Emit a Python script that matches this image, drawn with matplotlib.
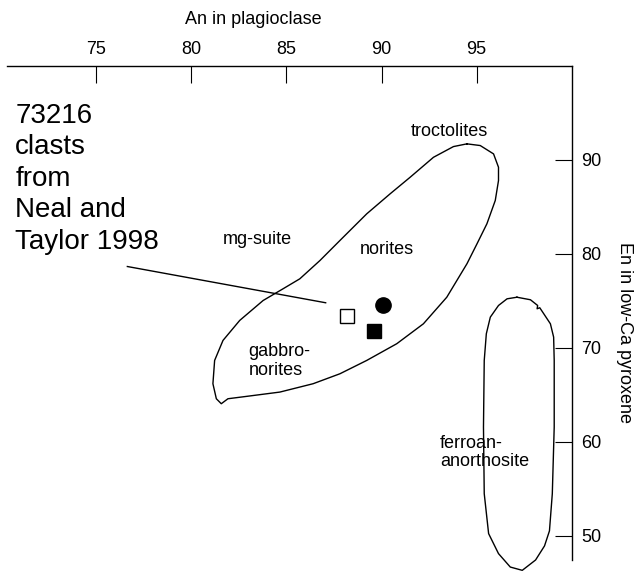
import matplotlib
matplotlib.use("Agg")
import matplotlib.pyplot as plt

plt.rcParams['font.family'] = ['Liberation Sans', 'DejaVu Sans']

# ---- data (An in plagioclase, En in low-Ca pyroxene) ----
x_ticks = [75, 80, 85, 90, 95]
y_ticks = [50, 60, 70, 80, 90]

# outline of the mg-suite field (troctolites / norites / gabbro-norites)
mg_an = [94.49, 95.19, 95.89, 96.15, 96.15, 95.98, 95.54, 95.02, 94.49, 93.43,
         92.20, 90.80, 89.22, 87.81, 86.40, 84.65, 82.89, 81.92, 81.57, 81.31,
         81.13, 81.22, 81.66, 82.54, 83.77, 84.82, 85.70, 86.76, 87.81, 89.22,
         90.45, 91.50, 92.73, 93.78, 94.49]
mg_en = [91.71, 91.53, 90.64, 89.22, 87.80, 85.68, 83.20, 81.07, 78.94, 75.38,
         72.55, 70.43, 68.65, 67.23, 66.17, 65.28, 64.82, 64.57, 64.04, 64.57,
         66.17, 68.65, 70.78, 72.91, 75.03, 76.28, 77.34, 79.29, 81.42, 84.26,
         86.39, 88.15, 90.28, 91.42, 91.71]

# outline of the ferroan-anorthosite field
fan_an = [97.12, 97.83, 98.21, 98.18, 98.32, 98.53, 98.88, 99.05, 99.08, 99.08,
          98.98, 98.83, 98.57, 98.10, 97.40, 96.77, 96.15, 95.63, 95.40, 95.36,
          95.40, 95.51, 95.72, 96.15, 96.60, 97.12]
fan_en = [75.38, 75.11, 74.50, 74.15, 74.26, 73.62, 72.55, 71.13, 68.65, 61.55,
          54.46, 50.50, 48.90, 47.40, 46.30, 46.65, 48.08, 50.21, 54.46, 61.55,
          68.65, 71.49, 73.26, 74.50, 75.21, 75.38]

# 73216 clasts (Neal and Taylor 1998)
clast_an = [88.2, 90.1, 89.6]
clast_en = [73.4, 74.5, 71.8]

# leader line from the note to the clasts
leader_an = [76.63, 87.06]
leader_en = [78.65, 74.79]

# ---- figure ----
fig = plt.figure(figsize=(6.36, 5.74), dpi=100)
W, H = 636, 574
ax = fig.add_axes([7 / W, 1 - 560 / H, 564.7 / W, 494 / H])
ax.set_xlim(70.3, 100.0)
ax.set_ylim(47.4, 100.0)

for s in ('left', 'bottom'):
    ax.spines[s].set_visible(False)
for s in ('top', 'right'):
    ax.spines[s].set_linewidth(1.0)

ax.xaxis.tick_top()
ax.yaxis.tick_right()
ax.set_xticks(x_ticks)
ax.set_yticks(y_ticks)
ax.tick_params(axis='x', direction='in', length=12.5, width=0.8, pad=6, labelsize=13)
ax.tick_params(axis='y', direction='in', length=12.5, width=0.8, pad=7, labelsize=13)

ax.xaxis.set_label_position('top')
ax.set_xlabel('An in plagioclase', fontsize=13, va='center')
ax.xaxis.set_label_coords((253.4 - 7) / 564.7, 1 + (66 - 19) / 494)
ax.yaxis.set_label_position('right')
ax.set_ylabel('En in low-Ca pyroxene', fontsize=13, rotation=270, va='center', ha='center')
ax.yaxis.set_label_coords((625 - 7) / 564.7, (560 - 332) / 494)

ax.plot(mg_an, mg_en, color='black', lw=1.0, clip_on=False)
ax.plot(fan_an, fan_en, color='black', lw=1.0, clip_on=False)
ax.plot(leader_an, leader_en, color='black', lw=1.0)

ax.plot(clast_an[0], clast_en[0], marker='s', ms=10, mfc='white', mec='black', mew=1.0, ls='none')
ax.plot(clast_an[1], clast_en[1], marker='o', ms=11, mfc='black', mec='black', ls='none')
ax.plot(clast_an[2], clast_en[2], marker='s', ms=10, mfc='black', mec='black', ls='none')

ax.text(93.56, 93.02, 'troctolites', ha='center', va='center', fontsize=13)
ax.text(83.46, 81.52, 'mg-suite', ha='center', va='center', fontsize=13)
ax.text(90.26, 80.46, 'norites', ha='center', va='center', fontsize=13)
ax.text(83.01, 68.6, 'gabbro-\nnorites', ha='left', va='center', fontsize=13, linespacing=1.12)
ax.text(93.08, 58.83, 'ferroan-\nanorthosite', ha='left', va='center', fontsize=13, linespacing=1.12)
ax.text(70.73, 96.1, '73216\nclasts\nfrom\nNeal and\nTaylor 1998', ha='left', va='top',
        fontsize=20, linespacing=1.28)

fig.savefig('out.png', dpi=100)
